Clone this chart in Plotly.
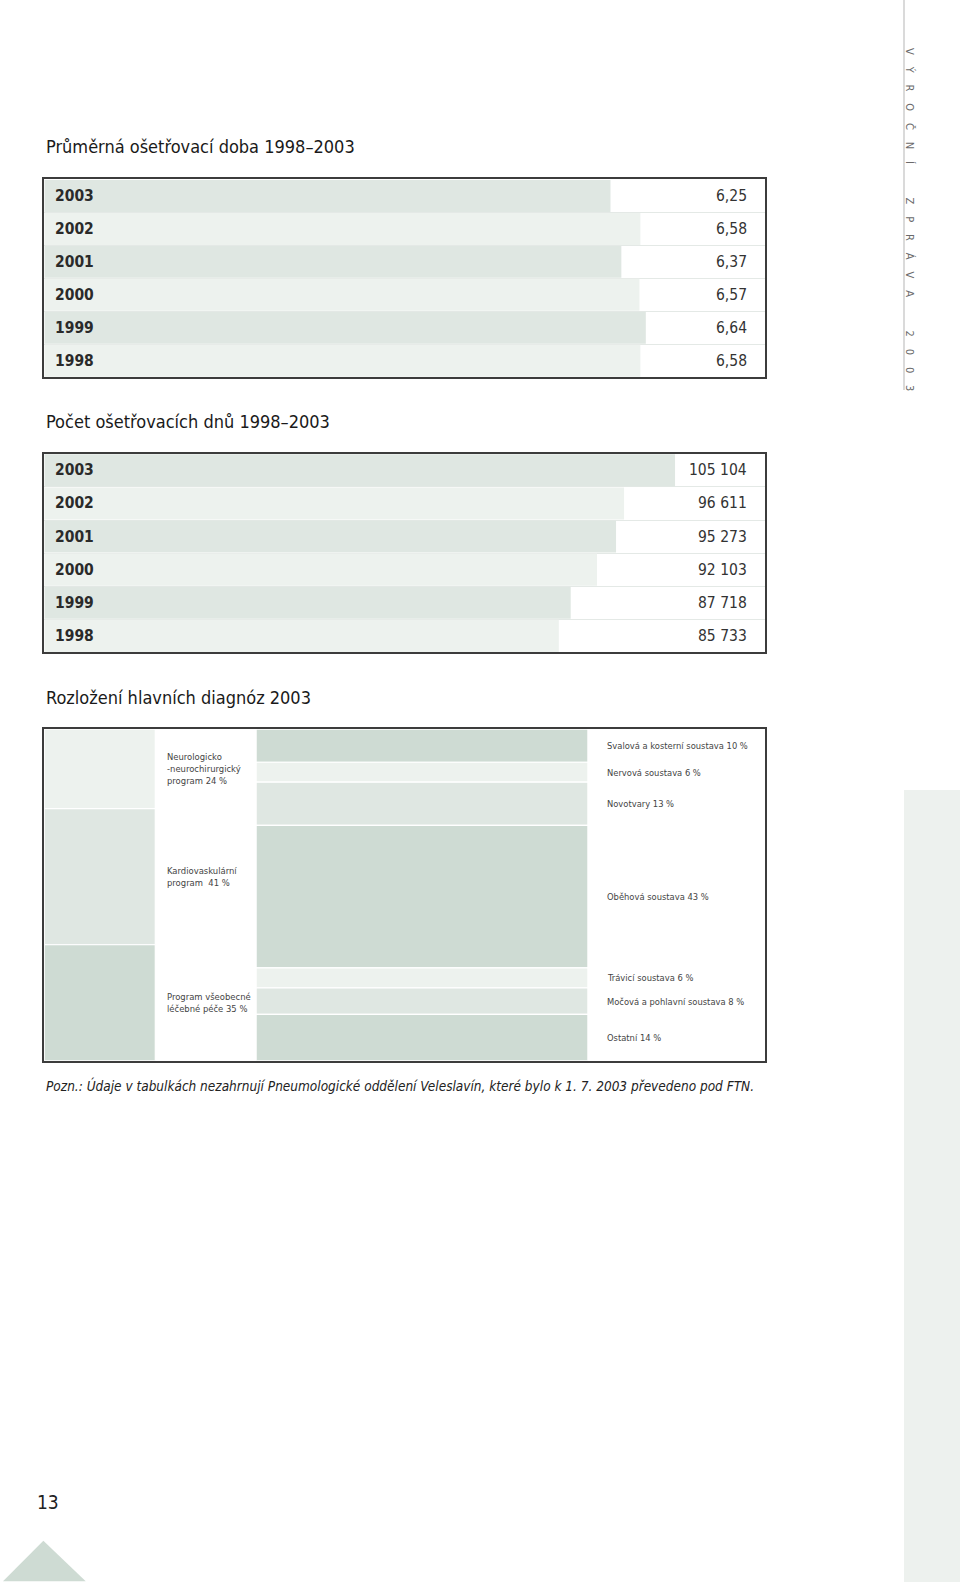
import plotly.graph_objects as go
import numpy as np

# ---------------- data ----------------
years = ["2003", "2002", "2001", "2000", "1999", "1998"]
avg_stay = [6.25, 6.58, 6.37, 6.57, 6.64, 6.58]
avg_stay_labels = ["6,25", "6,58", "6,37", "6,57", "6,64", "6,58"]

care_days = [105104, 96611, 95273, 92103, 87718, 85733]
care_days_labels = ["105 104", "96 611", "95 273", "92 103", "87 718", "85 733"]

programs = ["Neurologicko<br>-neurochirurgický<br>program 24 %",
            "Kardiovaskulární<br>program  41 %",
            "Program všeobecné<br>léčebné péče 35 %"]
program_share = [24, 41, 35]

diagnoses = ["Svalová a kosterní soustava 10 %", "Nervová soustava 6 %", "Novotvary 13 %",
             "Oběhová soustava 43 %", "Trávicí soustava 6 %",
             "Močová a pohlavní soustava 8 %", "Ostatní 14 %"]
diagnosis_share = [10, 6, 13, 43, 6, 8, 14]

title1 = "Průměrná ošetřovací doba 1998–2003"
title2 = "Počet ošetřovacích dnů 1998–2003"
title3 = "Rozložení hlavních diagnóz 2003"
footnote = "Pozn.: Údaje v tabulkách nezahrnují Pneumologické oddělení Veleslavín, které bylo k 1. 7. 2003 převedeno pod FTN."
side_text = "VÝROČNÍ ZPRÁVA 2003"
page_no = "13"

# ---------------- styling ----------------
W, H = 960, 1582
S = 960 / 952  # displayed -> full scale
FONT = "'Liberation Sans Narrow', 'DejaVu Sans Condensed', 'Roboto Condensed', Roboto, sans-serif"
DARK = "#cedbd3"
MID = "#dfe7e2"
LIGHT = "#edf2ee"
BORDER = "#3c3c3c"
TXT = "#2a2a2a"


def fx(px):
    return px * S / W


def fy(py):
    return 1 - py * S / H


fig = go.Figure()

BOX_L, BOX_R = 44, 759
row_colors = [MID, LIGHT] * 3

charts = [
    dict(vals=avg_stay, labels=avg_stay_labels, rng=7.96, ax=""),
    dict(vals=care_days, labels=care_days_labels, rng=120160, ax="2"),
]

annotations = []
for c in charts:
    n = len(years)
    ypos = list(range(n))
    xa = "x" + c["ax"]
    ya = "y" + c["ax"]
    fig.add_trace(go.Bar(
        x=c["vals"], y=ypos, orientation="h", width=0.97,
        marker=dict(color=row_colors, line=dict(color="white", width=0)),
        xaxis=xa, yaxis=ya, hoverinfo="skip", showlegend=False,
    ))
    for i, (yr, lab) in enumerate(zip(years, c["labels"])):
        annotations.append(dict(x=0, y=i, xref=xa, yref=ya, text=yr, showarrow=False,
                                xanchor="left", xshift=9,
                                font=dict(size=15.5, color=TXT, family=FONT, weight="bold")))
        annotations.append(dict(x=c["rng"], y=i, xref=xa, yref=ya, text=lab, showarrow=False,
                                xanchor="right", xshift=-16, font=dict(size=15.5, color="#333", family=FONT)))

# ---------------- treemap-like diagram ----------------
T_TOP, T_BOT = 723, 1052
p_base = list(np.cumsum(program_share) - np.array(program_share))
d_base = list(np.cumsum(diagnosis_share) - np.array(diagnosis_share))
LEFT_COL = (0, 110)
MID_COL = (210, 539)
fig.add_trace(go.Bar(
    x=[sum(LEFT_COL) / 2] * len(program_share), y=program_share, base=p_base,
    width=LEFT_COL[1] - LEFT_COL[0],
    marker=dict(color=[LIGHT, MID, DARK], line=dict(color="white", width=1.2)),
    xaxis="x3", yaxis="y3", hoverinfo="skip", showlegend=False,
))
fig.add_trace(go.Bar(
    x=[sum(MID_COL) / 2] * len(diagnosis_share), y=diagnosis_share, base=d_base,
    width=MID_COL[1] - MID_COL[0],
    marker=dict(color=[DARK, LIGHT, MID, DARK, LIGHT, MID, DARK], line=dict(color="white", width=1.2)),
    xaxis="x3", yaxis="y3", hoverinfo="skip", showlegend=False,
))
for name, b, v in zip(programs, p_base, program_share):
    annotations.append(dict(x=120, y=b + v / 2, xref="x3", yref="y3", text=name, showarrow=False,
                            xanchor="left", align="left", font=dict(size=9.4, color="#444", family=FONT)))
for name, b, v in zip(diagnoses, d_base, diagnosis_share):
    annotations.append(dict(x=556, y=b + v / 2, xref="x3", yref="y3", text=name, showarrow=False,
                            xanchor="left", align="left", font=dict(size=9.3, color="#444", family=FONT)))

# ---------------- titles & page text ----------------
for t, yy in [(title1, 145), (title2, 418), (title3, 692)]:
    annotations.append(dict(x=fx(44), y=fy(yy), xref="paper", yref="paper", text=t, showarrow=False,
                            xanchor="left", yanchor="middle",
                            font=dict(size=18, color="#1a1a1a", family=FONT)))
annotations.append(dict(x=fx(44), y=fy(1076), xref="paper", yref="paper", text=footnote, showarrow=False,
                        xanchor="left", yanchor="middle",
                        font=dict(size=13.5, color="#222", family=FONT, style="italic")))
annotations.append(dict(x=fx(35), y=fy(1489), xref="paper", yref="paper", text=page_no, showarrow=False,
                        xanchor="left", yanchor="middle", font=dict(size=19, color="#222", family=FONT)))
sep = "\u2003\u2009"
spaced = sep.join(ch if ch != " " else "\u2003" for ch in side_text)
annotations.append(dict(x=910 / W, y=1 - 219 / H, xref="paper", yref="paper", text=spaced, showarrow=False,
                        textangle=90, xanchor="center", yanchor="middle",
                        font=dict(size=11, color="#6a6a6a", family=FONT)))

shapes = [
    dict(type="line", xref="paper", yref="paper", x0=904 / W, x1=904 / W, y0=1, y1=1 - 390 / H,
         line=dict(color="#b5b5b5", width=1)),
    dict(type="rect", xref="paper", yref="paper", x0=904 / W, x1=1, y0=1 - 790 / H, y1=0,
         fillcolor="#edf1ee", line=dict(width=0), layer="below"),
    dict(type="path", xref="paper", yref="paper",
         path=f"M {fx(3)} {fy(1568)} L {fx(43)} {fy(1528)} L {fx(85)} {fy(1568)} Z",
         fillcolor=DARK, line=dict(width=0)),
]

axis_common = dict(showline=True, mirror=True, linecolor=BORDER, linewidth=1.5,
                   showticklabels=False, ticks="", zeroline=False, fixedrange=True)

fig.update_layout(
    width=W, height=H, margin=dict(l=0, r=0, t=0, b=0),
    paper_bgcolor="white", plot_bgcolor="white", showlegend=False, barmode="overlay",
    annotations=annotations, shapes=shapes,
    xaxis=dict(domain=[fx(BOX_L), fx(BOX_R)], range=[0, charts[0]["rng"]], showgrid=False, anchor="y", **axis_common),
    yaxis=dict(domain=[fy(374), fy(178)], range=[5.5, -0.5], anchor="x",
               tickvals=[0.5, 1.5, 2.5, 3.5, 4.5], showgrid=True, gridcolor="#e4e9e6", gridwidth=1,
               **axis_common),
    xaxis2=dict(domain=[fx(BOX_L), fx(BOX_R)], range=[0, charts[1]["rng"]], showgrid=False, anchor="y2", **axis_common),
    yaxis2=dict(domain=[fy(647), fy(450)], range=[5.5, -0.5], anchor="x2",
                tickvals=[0.5, 1.5, 2.5, 3.5, 4.5], showgrid=True, gridcolor="#e4e9e6", gridwidth=1,
                **axis_common),
    xaxis3=dict(domain=[fx(BOX_L), fx(BOX_R)], range=[0, BOX_R - BOX_L], showgrid=False, anchor="y3", **axis_common),
    yaxis3=dict(domain=[fy(T_BOT), fy(T_TOP)], range=[100, 0], showgrid=False, anchor="x3", **axis_common),
)

fig.write_html("out.html")
